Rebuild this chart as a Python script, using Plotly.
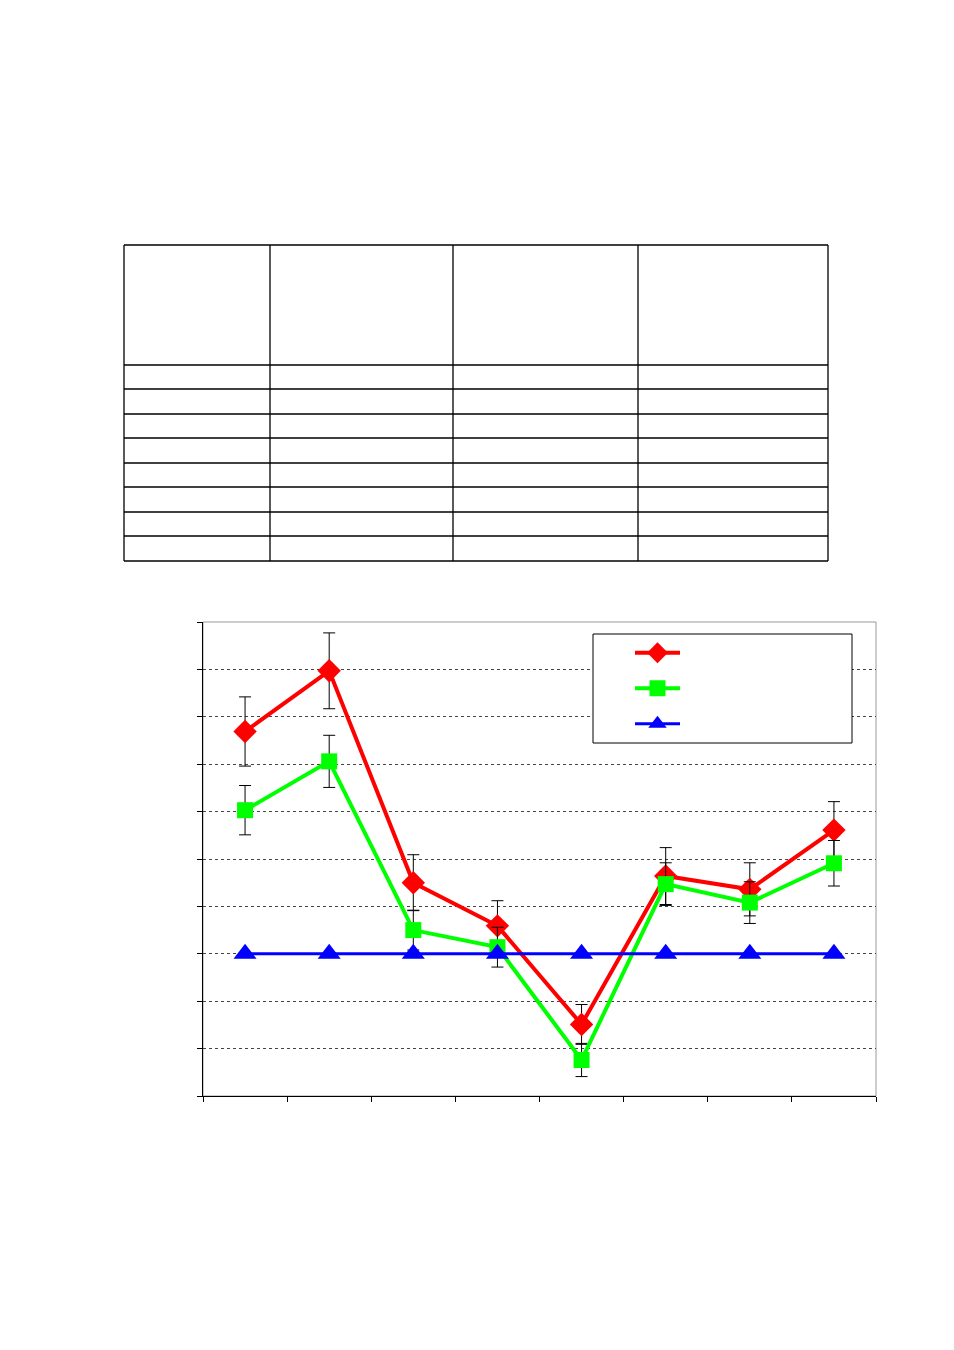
import plotly.graph_objects as go

# ---- data ----
categories = [1, 2, 3, 4, 5, 6, 7, 8]
red_values = [7.69, 8.97, 4.50, 3.59, 1.51, 4.64, 4.36, 5.61]
red_errors = [0.73, 0.80, 0.59, 0.53, 0.42, 0.60, 0.56, 0.60]
green_values = [6.03, 7.06, 3.50, 3.14, 0.76, 4.47, 4.08, 4.91]
green_errors = [0.52, 0.55, 0.42, 0.42, 0.35, 0.45, 0.44, 0.48]
blue_values = [3, 3, 3, 3, 3, 3, 3, 3]
series_names = ["\u2003", "\u2003\u2003", "\u2003\u2003\u2003"]
x_tick_positions = [0.5, 1.5, 2.5, 3.5, 4.5, 5.5, 6.5, 7.5, 8.5]

W, H = 954, 1350


def px_x(p):
    return p / W


def px_y(p):
    return 1 - p / H


fig = go.Figure()

fig.add_trace(go.Scatter(
    x=categories, y=red_values, name=series_names[0], mode="lines+markers",
    line=dict(color="#ff0000", width=4),
    marker=dict(symbol="diamond", size=18, color="#ff0000"),
    error_y=dict(type="data", array=red_errors, visible=True,
                 color="black", thickness=1, width=6),
))
fig.add_trace(go.Scatter(
    x=categories, y=green_values, name=series_names[1], mode="lines+markers",
    line=dict(color="#00ff00", width=4),
    marker=dict(symbol="square", size=16, color="#00ff00"),
    error_y=dict(type="data", array=green_errors, visible=True,
                 color="black", thickness=1, width=6),
))
fig.add_trace(go.Scatter(
    x=categories, y=blue_values, name=series_names[2], mode="lines+markers",
    line=dict(color="#0000ff", width=3),
    marker=dict(symbol="triangle-up", size=20, color="#0000ff"),
))

shapes = []
# plot-area border (gray, top & right visible)
shapes.append(dict(type="rect", xref="x domain", yref="y domain",
                   x0=0, x1=1, y0=0, y1=1,
                   line=dict(color="#9a9a9a", width=1), layer="below"))
# legend box
shapes.append(dict(type="rect", xref="paper", yref="paper",
                   x0=px_x(593), x1=px_x(852), y0=px_y(743), y1=px_y(634),
                   line=dict(color="black", width=1), fillcolor="white",
                   layer="above"))

# empty table grid
col_edges = [124, 270, 453, 638, 828]
row_edges = [245, 365, 389, 414, 438, 463, 487, 512, 536, 561]
for cx in col_edges:
    shapes.append(dict(type="line", xref="paper", yref="paper",
                       x0=px_x(cx), x1=px_x(cx),
                       y0=px_y(row_edges[0]), y1=px_y(row_edges[-1]),
                       line=dict(color="black", width=1.3)))
for ry in row_edges:
    shapes.append(dict(type="line", xref="paper", yref="paper",
                       x0=px_x(col_edges[0]), x1=px_x(col_edges[-1]),
                       y0=px_y(ry), y1=px_y(ry),
                       line=dict(color="black", width=1.3)))

fig.update_layout(
    width=W, height=H,
    margin=dict(l=0, r=0, t=0, b=0),
    paper_bgcolor="white", plot_bgcolor="white",
    showlegend=True,
    legend=dict(x=px_x(630), y=px_y(630), xanchor="left", yanchor="top",
                bgcolor="rgba(0,0,0,0)", borderwidth=0,
                font=dict(size=25, family="Liberation Sans", color="black"),
                itemwidth=45, tracegroupgap=0),
    shapes=shapes,
    xaxis=dict(domain=[px_x(203), px_x(876)], range=[0.5, 8.5],
               showgrid=False, zeroline=False,
               showline=True, linecolor="black", linewidth=1,
               ticks="outside", ticklen=5, tickcolor="black",
               tickvals=x_tick_positions, showticklabels=False),
    yaxis=dict(domain=[px_y(1096), px_y(622)], range=[0, 10],
               dtick=1, tick0=0,
               showgrid=True, gridcolor="#444444", gridwidth=1, griddash="dot",
               zeroline=False,
               showline=True, linecolor="black", linewidth=1,
               ticks="outside", ticklen=5, tickcolor="black",
               showticklabels=False),
)

fig.write_html("out.html", config={"displayModeBar": False},
               post_script="document.body.style.margin='0';")
